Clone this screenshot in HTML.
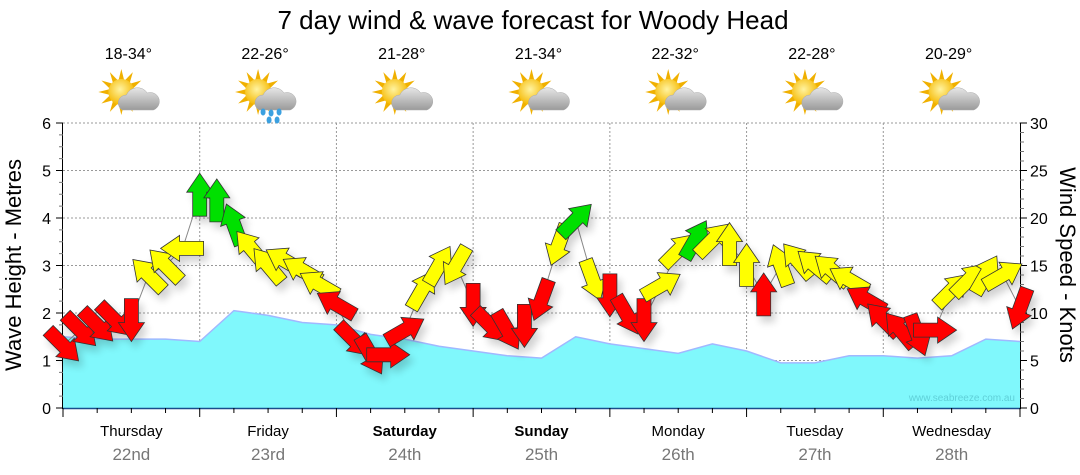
<!DOCTYPE html>
<html><head><meta charset="utf-8">
<style>
body{margin:0;background:#fff;}
svg{display:block;font-family:"Liberation Sans",Arial,sans-serif;}
</style></head>
<body>
<svg id="chart" width="1080" height="475" viewBox="0 0 1080 475">
<defs>
<filter id="sh" x="-50%" y="-50%" width="200%" height="200%"><feGaussianBlur in="SourceAlpha" stdDeviation="4"/><feOffset dx="4" dy="6"/><feComponentTransfer><feFuncA type="linear" slope="0.18"/></feComponentTransfer><feMerge><feMergeNode/><feMergeNode in="SourceGraphic"/></feMerge></filter>
<radialGradient id="sun" cx="0.45" cy="0.4" r="0.6"><stop offset="0" stop-color="#fff3a0"/><stop offset="1" stop-color="#f5b800"/></radialGradient>
<linearGradient id="cloud" x1="0" y1="0" x2="0" y2="1"><stop offset="0" stop-color="#e6e6e6"/><stop offset="1" stop-color="#9a9a9a"/></linearGradient>
</defs>
<text x="533" y="29" text-anchor="middle" font-size="26" fill="#000">7 day wind &amp; wave forecast for Woody Head</text>
<g id="grid"></g>
<g id="wave"></g>
<g id="axes"></g>
<g id="wind"></g>
<g id="icons"></g>
<text x="1015" y="401" text-anchor="end" font-size="10" fill="#5fd0d8">www.seabreeze.com.au</text>
<text transform="translate(21,265) rotate(-90)" text-anchor="middle" font-size="22">Wave Height - Metres</text>
<text transform="translate(1060,265) rotate(90)" text-anchor="middle" font-size="22">Wind Speed - Knots</text>
</svg>
<script>
const days=["Thursday","Friday","Saturday","Sunday","Monday","Tuesday","Wednesday"];
const dates=["22nd","23rd","24th","25th","26th","27th","28th"];
const temps=["18-34°","22-26°","21-28°","21-34°","22-32°","22-28°","20-29°"];
const rainy=[false,true,false,false,false,false,false];
const boldDays=[false,false,true,true,false,false,false];
// wave height (m), every 6 hours
const waveVals=[1.5,1.45,1.45,1.45,1.4,2.05,1.95,1.8,1.75,1.55,1.45,1.3,1.2,1.1,1.05,1.5,1.35,1.25,1.15,1.35,1.2,0.95,0.95,1.1,1.1,1.05,1.1,1.45,1.4];
// wind speed (knots) every 3 hours
const windSpeed=[6.6,8.2,8.7,9.3,9.3,14,15,16.8,22.4,21.8,19.3,16.8,15,15.5,14.5,13,10.9,7.2,5.6,5.6,8.2,12.4,15,15,10.9,8.7,8.2,8.7,11.4,17.2,19.8,13.5,11.9,9.8,9.3,12.9,16.6,17.7,17.7,17.2,15,11.9,15,15.5,15,14.5,13.5,11.4,9.3,8.2,7.7,8.2,12.4,13.5,14,14,10.5];
// direction arrow points to (degrees, 0 = up)
const windDir=[135,135,135,135,180,315,315,270,0,0,340,320,320,300,300,300,300,135,150,90,60,30,30,210,180,135,150,180,200,200,45,160,180,150,180,60,45,30,45,0,0,0,340,320,310,310,300,300,315,320,160,90,45,45,30,60,200];
// colour rating: 0 red,1 yellow,2 green
const windRate=[0,0,0,0,0,1,1,1,2,2,2,1,1,1,1,1,0,0,0,0,0,1,1,1,0,0,0,0,0,1,2,1,0,0,0,1,1,2,1,1,1,0,1,1,1,1,1,0,0,0,0,0,1,1,1,1,0];
const yTicksL=[0,1,2,3,4,5,6];
const yTicksR=[0,5,10,15,20,25,30];

const NS="http://www.w3.org/2000/svg";
const X0=63,X1=1020,Y0=408,Y6=123;
const xDay=d=>X0+(X1-X0)*d/7;
const xHour=h=>X0+(X1-X0)*h/168;
const yM=m=>Y0-(Y0-Y6)*m/6;
const yK=k=>Y0-(Y0-Y6)*k/30;
function el(tag,attrs,parent){const e=document.createElementNS(NS,tag);for(const k in attrs)e.setAttribute(k,attrs[k]);parent.appendChild(e);return e;}
const grid=document.getElementById('grid'),axes=document.getElementById('axes'),wave=document.getElementById('wave'),wind=document.getElementById('wind'),icons=document.getElementById('icons');

yTicksL.forEach(v=>{if(v>0){const l=el('line',{x1:X0,x2:X1,y1:yM(v),y2:yM(v),stroke:'#999','stroke-dasharray':'2,2','stroke-width':1},grid);

}});
for(let d=1;d<7;d++){const l=el('line',{x1:xDay(d),x2:xDay(d),y1:Y6,y2:Y0,stroke:'#999','stroke-dasharray':'2,2'},grid);

}

let pts=waveVals.map((v,i)=>[xHour(i*6),yM(v)]);
let d='M'+X0+','+Y0+' '+pts.map(p=>'L'+p[0].toFixed(1)+','+p[1].toFixed(1)).join(' ')+' L'+X1+','+Y0+'Z';
const wa=el('path',{d:d,fill:'#80f8fc'},wave);


const wl=el('polyline',{points:pts.map(p=>p.join(',')).join(' '),fill:'none',stroke:'#a0b8ff','stroke-width':1.5},wave);



el('line',{x1:X0-0.5,x2:X0-0.5,y1:Y6,y2:Y0+1,stroke:'#000'},axes);
el('line',{x1:X1+0.5,x2:X1+0.5,y1:Y6,y2:Y0+1,stroke:'#000'},axes);
el('line',{x1:X0,x2:X1,y1:Y0+0.5,y2:Y0+0.5,stroke:'#1a4c8c','stroke-width':1.5},axes);
for(let m=0;m<=24;m++){const y=yM(m/4);const major=m%4==0;
el('line',{x1:X0-(major?7:4),x2:X0,y1:y,y2:y,stroke:major?'#000':'#777'},axes);}
for(let k=0;k<=30;k++){const y=yK(k);const major=k%5==0;
el('line',{x1:X1,x2:X1+(major?7:4),y1:y,y2:y,stroke:major?'#000':'#777'},axes);}
yTicksL.forEach(v=>{const t=el('text',{x:X0-12,y:yM(v)+6,'text-anchor':'end','font-size':16},axes);t.textContent=v;

});
yTicksR.forEach(v=>{const t=el('text',{x:X1+10,y:yK(v)+6,'text-anchor':'start','font-size':16},axes);t.textContent=v;

});
for(let h=0;h<=168;h+=6){const x=xHour(h);const major=h%24==0;
el('line',{x1:x,x2:x,y1:Y0,y2:Y0+(major?9:5),stroke:'#000'},axes);}
days.forEach((n,i)=>{const cx=(xDay(i)+xDay(i+1))/2;
const t=el('text',{x:cx,y:436,'text-anchor':'middle','font-size':15,'font-weight':boldDays[i]?'bold':'normal'},axes);t.textContent=n;


const t2=el('text',{x:cx,y:460,'text-anchor':'middle','font-size':17,fill:'#777'},axes);t2.textContent=dates[i];


const t3=el('text',{x:cx-3,y:59,'text-anchor':'middle','font-size':16},icons);t3.textContent=temps[i];


const g=el('g',{transform:'translate('+(cx-1)+',96)'},icons);


for(let r=0;r<12;r++){const a=r*30;el('polygon',{points:'-3,-11 3,-11 0,-23',fill:'#f0b000',transform:'translate(-9,-4) rotate('+a+')'},g);}
el('circle',{cx:-9,cy:-4,r:13,fill:'url(#sun)'},g);
el('path',{d:'M-8,14 a8,8 0 0 1 4,-15 a12,12 0 0 1 21,-2 a8,8 0 0 1 6,17 z',fill:'url(#cloud)',stroke:'#aaa','stroke-width':0.5},g);
if(rainy[i]){[[-4,16],[4,17],[12,16],[2,24],[10,24]].forEach(p=>el('ellipse',{cx:p[0],cy:p[1],rx:2.5,ry:3.5,fill:'#3aa0e0'},g));}
});

const wpts=windSpeed.map((s,i)=>[xHour(i*3),yK(s)]);
const ln=el('polyline',{points:wpts.map(p=>p.join(',')).join(' '),fill:'none',stroke:'#888','stroke-width':1},wind);


const cols=['#ff0000','#ffff00','#00e000'];
const ag=el('g',{filter:'url(#sh)'},wind);
windSpeed.forEach((s,i)=>{const x=xHour(i*3),y=yK(s);
const a=el('polygon',{points:'-7,21 7,21 7,-3 13,-3 0,-22 -13,-3 -7,-3',fill:cols[windRate[i]],stroke:'#333','stroke-width':0.8,transform:'translate('+x.toFixed(1)+','+y.toFixed(1)+') rotate('+windDir[i]+')'},ag);

});
</script>
</body></html>
